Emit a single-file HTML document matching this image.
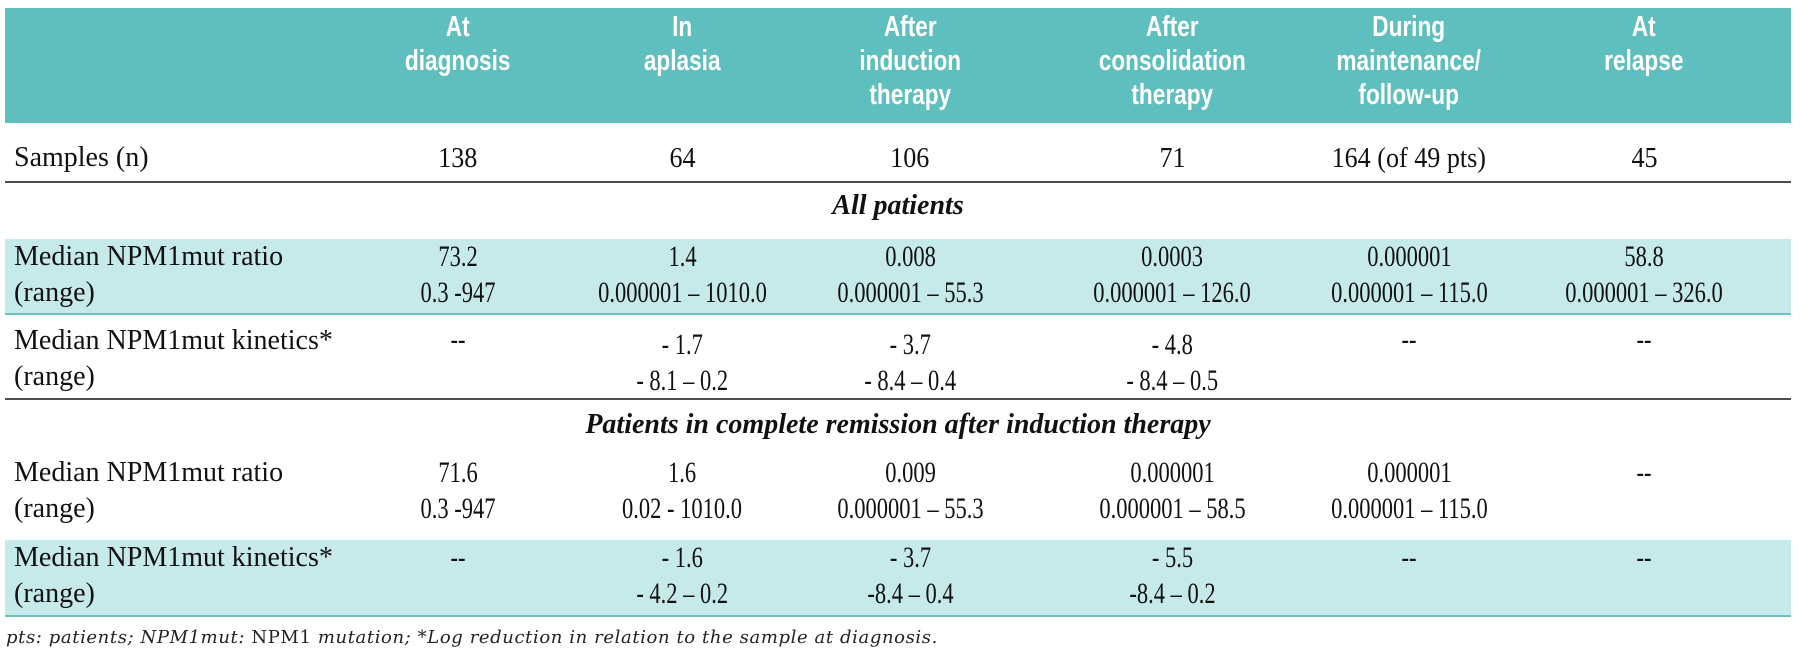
<!DOCTYPE html>
<html><head><meta charset="utf-8">
<style>
html,body{margin:0;padding:0;background:#fff;}
body{width:1800px;height:656px;position:relative;overflow:hidden;}
.hdr{position:absolute;left:5px;top:8px;width:1786px;height:115px;background:#5fbebe;}
.h{position:absolute;width:300px;text-align:center;color:#fff;font-family:"Liberation Sans",sans-serif;font-weight:bold;font-size:29px;line-height:34px;top:10px;}
.h span{display:inline-block;transform:scaleX(0.78);transform-origin:center;white-space:nowrap;}
.lab{position:absolute;left:14px;font-family:"Liberation Serif",serif;font-size:28px;line-height:36px;color:#111;white-space:nowrap;}
.v{position:absolute;width:300px;text-align:center;font-family:"Liberation Serif",serif;font-size:30px;line-height:36px;color:#111;white-space:nowrap;}
.v span{display:inline-block;transform:scaleX(0.75);transform-origin:center;}
.s{position:absolute;width:300px;text-align:center;font-family:"Liberation Serif",serif;font-size:29px;line-height:36px;color:#111;white-space:nowrap;}
.s span{display:inline-block;transform:scaleX(0.9);transform-origin:center;}
.rule{position:absolute;left:5px;width:1786px;height:2px;background:#4d4d4d;}
.teal{position:absolute;left:5px;width:1786px;background:#c6eaea;border-bottom:2px solid #6cc0c0;}
.sec{position:absolute;left:5px;width:1786px;text-align:center;font-family:"Liberation Serif",serif;font-weight:bold;font-style:italic;font-size:28px;line-height:34px;color:#111;}
.foot{position:absolute;left:6px;top:626px;font-family:"DejaVu Serif",serif;font-style:italic;font-size:18px;letter-spacing:0.6px;line-height:24px;color:#222;white-space:nowrap;}
.foot b{font-weight:normal;font-style:normal;}
</style></head><body>

<div class="hdr"></div>
<div class="h" style="left:308px"><span>At<br>diagnosis</span></div>
<div class="h" style="left:532px"><span>In<br>aplasia</span></div>
<div class="h" style="left:760px"><span>After<br>induction<br>therapy</span></div>
<div class="h" style="left:1022px"><span>After<br>consolidation<br>therapy</span></div>
<div class="h" style="left:1259px"><span>During<br>maintenance/<br>follow-up</span></div>
<div class="h" style="left:1494px"><span>At<br>relapse</span></div>

<!-- Samples row -->
<div class="lab" style="top:140px">Samples (n)</div>
<div class="s" style="left:308px;top:140px"><span>138</span></div>
<div class="s" style="left:532px;top:140px"><span>64</span></div>
<div class="s" style="left:760px;top:140px"><span>106</span></div>
<div class="s" style="left:1022px;top:140px"><span>71</span></div>
<div class="s" style="left:1259px;top:140px"><span>164 (of 49 pts)</span></div>
<div class="s" style="left:1494px;top:140px"><span>45</span></div>
<div class="rule" style="top:181px"></div>

<div class="sec" style="top:189px">All patients</div>

<!-- All patients ratio -->
<div class="teal" style="top:239px;height:74px"></div>
<div class="lab" style="top:239px">Median NPM1mut ratio<br>(range)</div>
<div class="v" style="left:308px;top:239px"><span>73.2<br>0.3 -947</span></div>
<div class="v" style="left:532px;top:239px"><span>1.4<br>0.000001 – 1010.0</span></div>
<div class="v" style="left:760px;top:239px"><span>0.008<br>0.000001 – 55.3</span></div>
<div class="v" style="left:1022px;top:239px"><span>0.0003<br>0.000001 – 126.0</span></div>
<div class="v" style="left:1259px;top:239px"><span>0.000001<br>0.000001 – 115.0</span></div>
<div class="v" style="left:1494px;top:239px"><span>58.8<br>0.000001 – 326.0</span></div>

<!-- All patients kinetics -->
<div class="lab" style="top:323px">Median NPM1mut kinetics*<br>(range)</div>
<div class="v" style="left:308px;top:322px"><span>--</span></div>
<div class="v" style="left:532px;top:327px"><span>- 1.7<br>- 8.1 – 0.2</span></div>
<div class="v" style="left:760px;top:327px"><span>- 3.7<br>- 8.4 – 0.4</span></div>
<div class="v" style="left:1022px;top:327px"><span>- 4.8<br>- 8.4 – 0.5</span></div>
<div class="v" style="left:1259px;top:322px"><span>--</span></div>
<div class="v" style="left:1494px;top:322px"><span>--</span></div>
<div class="rule" style="top:398px"></div>

<div class="sec" style="top:408px">Patients in complete remission after induction therapy</div>

<!-- CR ratio -->
<div class="lab" style="top:455px">Median NPM1mut ratio<br>(range)</div>
<div class="v" style="left:308px;top:455px"><span>71.6<br>0.3 -947</span></div>
<div class="v" style="left:532px;top:455px"><span>1.6<br>0.02 - 1010.0</span></div>
<div class="v" style="left:760px;top:455px"><span>0.009<br>0.000001 – 55.3</span></div>
<div class="v" style="left:1022px;top:455px"><span>0.000001<br>0.000001 – 58.5</span></div>
<div class="v" style="left:1259px;top:455px"><span>0.000001<br>0.000001 – 115.0</span></div>
<div class="v" style="left:1494px;top:455px"><span>--</span></div>

<!-- CR kinetics -->
<div class="teal" style="top:540px;height:75px"></div>
<div class="lab" style="top:540px">Median NPM1mut kinetics*<br>(range)</div>
<div class="v" style="left:308px;top:540px"><span>--</span></div>
<div class="v" style="left:532px;top:540px"><span>- 1.6<br>- 4.2 – 0.2</span></div>
<div class="v" style="left:760px;top:540px"><span>- 3.7<br>-8.4 – 0.4</span></div>
<div class="v" style="left:1022px;top:540px"><span>- 5.5<br>-8.4 – 0.2</span></div>
<div class="v" style="left:1259px;top:540px"><span>--</span></div>
<div class="v" style="left:1494px;top:540px"><span>--</span></div>

<div class="foot">pts: patients; NPM1mut: <b>NPM1</b> mutation; *Log reduction in relation to the sample at diagnosis.</div>

</body></html>
